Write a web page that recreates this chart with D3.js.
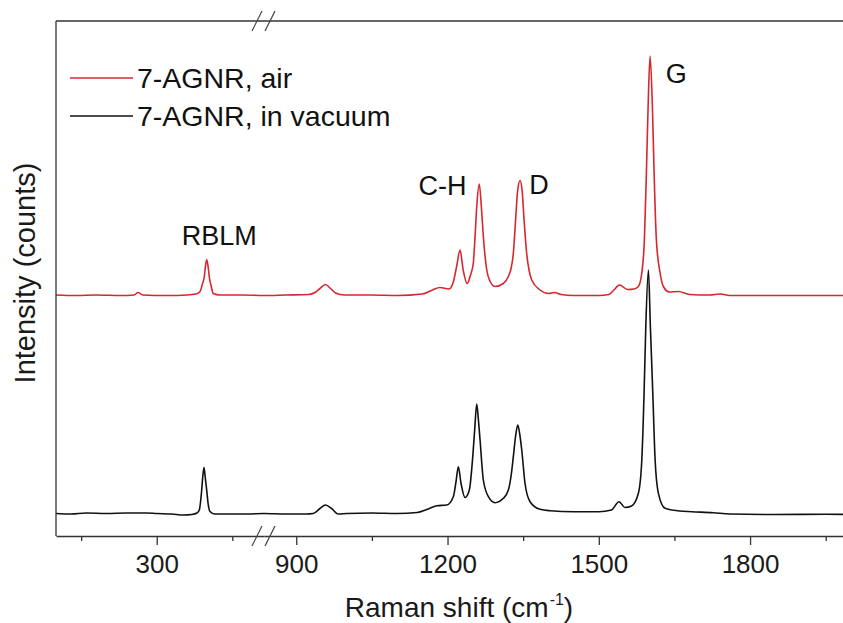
<!DOCTYPE html>
<html>
<head>
<meta charset="utf-8">
<script src="https://cdn.jsdelivr.net/npm/d3@7"></script>
<style>
  body { margin: 0; background: #fff; }
  svg { font-family: "Liberation Sans", Arial, sans-serif; }
</style>
</head>
<body>
<div id="chart"></div>
<script>
// Raman spectrum, 7-AGNR in air (offset upward) and in vacuum
const airShift = [100, 140, 180, 230, 255, 263, 272, 320, 360, 378, 386, 391, 394.4, 396.4, 399.2, 402.4, 404.4, 408, 412.3, 425, 470, 513,
  836, 880, 925, 937, 947, 958, 968, 978, 995, 1050, 1100, 1150, 1170, 1185, 1203, 1212, 1218, 1224.8, 1231, 1239, 1245, 1251, 1254.6,
  1258, 1263, 1267, 1271, 1277.8, 1285, 1294, 1310.7, 1320.6, 1326, 1330.5, 1335, 1339, 1343.8, 1348, 1351.8, 1357, 1362, 1367, 1383.5,
  1400, 1412, 1425, 1450, 1500, 1520, 1530, 1541, 1557, 1570, 1578.5, 1585.3, 1590.4, 1594.4, 1597.8, 1601.7, 1606.3, 1609.7, 1614.2,
  1621.6, 1628, 1640, 1658, 1680, 1720, 1741, 1760, 1850, 1950, 2022];
const airCounts = [482, 481, 482, 481, 482, 487, 482, 481, 482, 484, 489, 505, 518, 536, 553, 536, 518, 500, 485, 482, 482, 481,
  481, 482, 483, 487, 495, 503, 495, 486, 482, 482, 481, 484, 492, 497, 494, 510, 539, 572, 532, 505, 520, 545, 599,
  660, 704, 660, 599, 532, 508, 499, 505, 519, 535, 565, 632, 690, 711, 690, 632, 565, 530, 512, 492,
  485, 487, 483, 481, 481, 483, 492, 502, 493, 494, 499, 526, 592, 726, 859, 960, 859, 726, 592,
  526, 499, 488, 489, 483, 482, 484, 481, 481, 481, 481];

const vacShift = [100, 130, 160, 200, 240, 280, 300, 330, 352.8, 370, 380, 384.5, 389.3, 391.5, 393.8, 396, 399.2, 402, 405.8, 415, 450, 480, 513,
  836, 880, 920, 933.7, 947, 958, 970, 983.3, 1000, 1050, 1100, 1140, 1158.7, 1178.6, 1198.4, 1211.5, 1217, 1221.4, 1226.8, 1234.7, 1243.2,
  1250, 1254, 1257.9, 1261, 1264.5, 1271, 1281, 1294.2, 1310.7, 1320.6, 1326, 1330.5, 1335, 1339.3, 1343, 1347.2, 1353.7, 1363.7, 1383.5,
  1403.3, 1450, 1500, 1525, 1540, 1552, 1565, 1578.5, 1585.3, 1589.8, 1593.2, 1598.4, 1602.3, 1607.1, 1611.7, 1618.2, 1631.5, 1660, 1684.5,
  1727, 1760, 1850, 1950, 2022];
const vacCounts = [45, 44, 46, 45, 46, 46, 45, 44, 42, 43, 46, 52, 92, 120, 137, 120, 92, 65, 49, 44, 44, 44, 45,
  45, 44, 44, 45, 55, 62, 55, 44, 45, 46, 45, 47, 53, 60.6, 62, 78.6, 110, 138.6, 105, 77, 92,
  158.6, 215, 264, 235, 192, 112, 78.6, 66.6, 75.4, 92, 120, 158.6, 200, 222, 205, 172, 105, 68.6, 53.4,
  50.6, 48.6, 48.6, 52, 68.6, 57, 60, 85.4, 152, 285.4, 418.6, 532, 418.6, 285.4, 152, 85.4, 55.4, 50, 48.6,
  46.6, 44, 43, 43.4, 43];

const seriesNames = ["7-AGNR, air", "7-AGNR, in vacuum"];
const seriesColors = ["#d8262f", "#111111"];

const majorTicksLeft = [300];
const minorTicksLeft = [150, 450];
const majorTicksRight = [900, 1200, 1500, 1800];
const minorTicksRight = [1050, 1350, 1650, 1950];

const peakLabels = [
  { text: "RBLM", x: 424, c: 582, anchor: "middle" },
  { text: "C-H", x: 1190, c: 683, anchor: "middle" },
  { text: "D", x: 1362, c: 685, anchor: "start" },
  { text: "G", x: 1633, c: 907, anchor: "start" }
];

const width = 843, height = 623;
const margin = { top: 21, left: 56, bottom: 87 };
const breakPx = 264;
const plotRight = 862;

const svg = d3.select("#chart").append("svg")
  .attr("width", width)
  .attr("height", height);

// broken x axis: two linear pieces sharing one pixel at the break
const xL = d3.scaleLinear().domain([100, 513]).range([margin.left, breakPx]);
const xR = d3.scaleLinear().domain([836, 2022]).range([breakPx, plotRight]);
const xPos = v => (v <= 513 ? xL(v) : xR(v));

const y = d3.scaleLinear().domain([0, 1030]).range([height - margin.bottom, margin.top]);
const yBottom = height - margin.bottom;

const line = d3.line()
  .x(d => xPos(d[0]))
  .y(d => y(d[1]))
  .curve(d3.curveMonotoneX);

const airData = d3.zip(airShift, airCounts);
const vacData = d3.zip(vacShift, vacCounts);

// spectra
[airData, vacData].forEach((data, i) => {
  svg.append("path")
    .datum(data)
    .attr("fill", "none")
    .attr("stroke", seriesColors[i])
    .attr("stroke-width", 1.6)
    .attr("stroke-linejoin", "round")
    .attr("d", line);
});

// axes frame
const axisColor = "#333";
svg.append("line")
  .attr("x1", margin.left).attr("x2", margin.left)
  .attr("y1", margin.top).attr("y2", yBottom)
  .attr("stroke", axisColor).attr("stroke-width", 1.3);
svg.append("line")
  .attr("x1", margin.left).attr("x2", plotRight)
  .attr("y1", margin.top).attr("y2", margin.top)
  .attr("stroke", axisColor).attr("stroke-width", 1.3);

function drawAxis(scale, major, minor) {
  const gMajor = svg.append("g")
    .attr("transform", `translate(0,${yBottom})`)
    .call(d3.axisBottom(scale).tickValues(major).tickSize(9).tickSizeOuter(0)
      .tickPadding(10).tickFormat(d3.format("d")));
  gMajor.select(".domain").attr("stroke", axisColor).attr("stroke-width", 1.3);
  gMajor.selectAll(".tick line").attr("stroke", axisColor).attr("stroke-width", 1.3);
  gMajor.selectAll("text")
    .attr("font-size", "26px")
    .attr("font-family", "Liberation Sans, Arial, sans-serif")
    .attr("fill", "#1a1a1a");

  const gMinor = svg.append("g")
    .attr("transform", `translate(0,${yBottom})`)
    .call(d3.axisBottom(scale).tickValues(minor).tickSize(5).tickSizeOuter(0).tickFormat(""));
  gMinor.select(".domain").remove();
  gMinor.selectAll(".tick line").attr("stroke", axisColor).attr("stroke-width", 1.3);
}
drawAxis(xL, majorTicksLeft, minorTicksLeft);
drawAxis(xR, majorTicksRight, minorTicksRight);

// break marks "//" on top and bottom axes
[margin.top, yBottom].forEach(yy => {
  [-7, 6].forEach(off => {
    svg.append("line")
      .attr("x1", breakPx + off - 5).attr("y1", yy + 10)
      .attr("x2", breakPx + off + 5).attr("y2", yy - 10)
      .attr("stroke", "#444")
      .attr("stroke-width", 1.2);
  });
});

// peak labels
peakLabels.forEach(p => {
  svg.append("text")
    .attr("x", xPos(p.x))
    .attr("y", y(p.c))
    .attr("text-anchor", p.anchor)
    .attr("font-size", "27px")
    .attr("fill", "#111")
    .text(p.text);
});

// legend
const legend = svg.append("g").attr("transform", "translate(70,78)");
seriesNames.forEach((name, i) => {
  const row = legend.append("g").attr("transform", `translate(0,${i * 38})`);
  row.append("line")
    .attr("x1", 0).attr("x2", 63)
    .attr("y1", 0).attr("y2", 0)
    .attr("stroke", seriesColors[i])
    .attr("stroke-width", 1.6);
  row.append("text")
    .attr("x", 67)
    .attr("y", 10)
    .attr("font-size", "28.5px")
    .attr("fill", "#111")
    .text(name);
});

// axis titles
const xTitle = svg.append("text")
  .attr("x", 459)
  .attr("y", 617)
  .attr("text-anchor", "middle")
  .attr("font-size", "28px")
  .attr("fill", "#1a1a1a");
xTitle.append("tspan").text("Raman shift (cm");
xTitle.append("tspan").attr("font-size", "16px").attr("dx", 1).attr("dy", -12).text("-1");
xTitle.append("tspan").attr("dy", 12).text(")");

svg.append("text")
  .attr("transform", "rotate(-90)")
  .attr("x", -273)
  .attr("y", 35)
  .attr("text-anchor", "middle")
  .attr("font-size", "29px")
  .attr("fill", "#1a1a1a")
  .text("Intensity (counts)");
</script>
</body>
</html>
